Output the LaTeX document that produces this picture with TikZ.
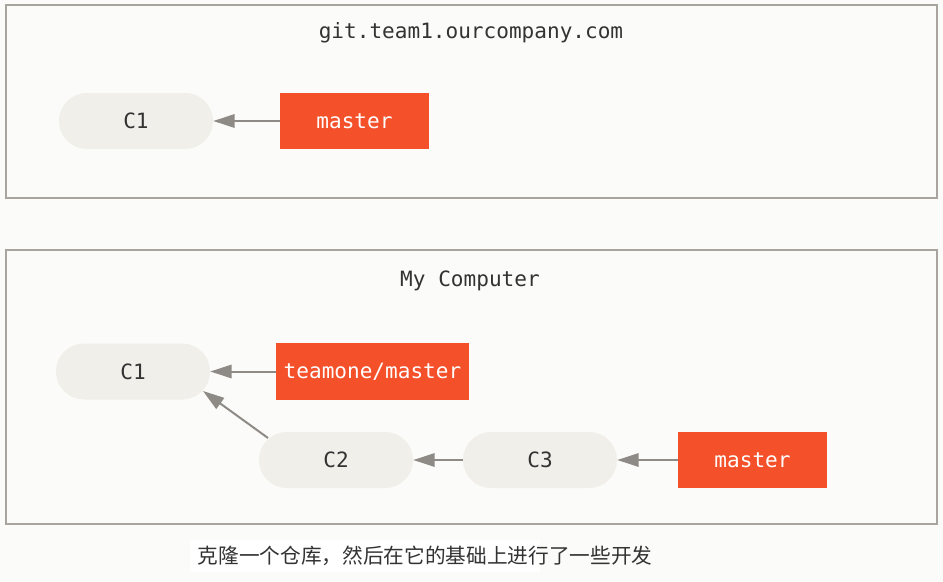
\documentclass[tikz,border=0pt]{standalone}
\usepackage{fontspec}
\setmonofont{DejaVu Sans Mono}
\newfontfamily\cjk{Noto Sans CJK SC}
\usetikzlibrary{arrows.meta}
\definecolor{bgc}{HTML}{FBFBF9}
\definecolor{frame}{HTML}{A8A49E}
\definecolor{pill}{HTML}{F0EFE9}
\definecolor{ink}{HTML}{333333}
\definecolor{branch}{HTML}{F4502A}
\definecolor{arr}{HTML}{8E8A85}
\tikzset{
  area/.style={draw=frame, line width=1.5pt, fill=bgc},
  commit/.style={fill=pill, rounded corners=20.9pt, minimum width=115.5pt, minimum height=42pt, inner sep=0pt, text=ink, font=\ttfamily\fontsize{15.8}{18}\selectfont},
  branchbox/.style={fill=branch, minimum height=42.5pt, inner sep=0pt, text=white, font=\ttfamily\fontsize{15.8}{18}\selectfont},
  title/.style={text=ink, font=\ttfamily\fontsize{15.8}{18}\selectfont},
  link/.style={draw=arr, line width=1.5pt, -{Triangle[length=16pt,width=10pt]}},
}
\begin{document}
\begin{tikzpicture}[x=0.75pt, y=-0.75pt]
\fill[bgc] (0,0) rectangle (943,582);
\useasboundingbox (0,0) rectangle (943,582);
% areas
\draw[area] (6,5) rectangle (937,198);
\draw[area] (6,250) rectangle (937,524);
\node[title] (t1) at (471,32.5) {git.team1.ourcompany.com};
\node[title] (t2) at (470,280.5) {My Computer};
% top
\node[commit] (a1) at (136,121) {C1};
\node[branchbox, minimum width=111.75pt] (am) at (354.5,121) {master};
\draw[link] (am) -- (a1);
% bottom
\node[commit] (b1) at (133,371.5) {C1};
\node[branchbox, minimum width=144.75pt] (bt) at (372.5,371.5) {teamone/master};
\node[commit] (b2) at (336,460) {C2};
\node[commit] (b3) at (540,460) {C3};
\node[branchbox, minimum width=111.75pt] (bm) at (752.5,460) {master};
\draw[link] (bt) -- (b1);
\draw[link] (268,438) coordinate (s2) -- (203,391) coordinate (e1);
\draw[link] (b3) -- (b2);
\draw[link] (bm) -- (b3);
% caption
\fill[white] (190,540) rectangle (540,572);
\node[text=ink, font=\cjk\fontsize{15.5}{18}\selectfont, anchor=west] (cap) at (193,556) {克隆一个仓库，然后在它的基础上进行了一些开发};
\end{tikzpicture}
\end{document}
